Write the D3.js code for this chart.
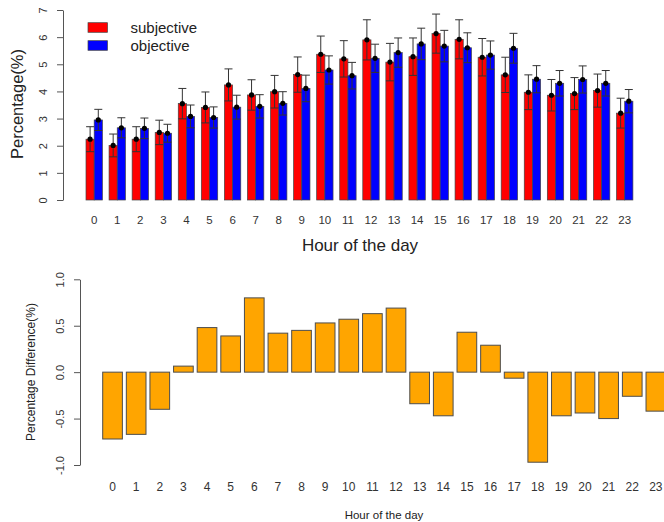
<!DOCTYPE html>
<html>
<head>
<meta charset="utf-8">
<script src="https://cdn.jsdelivr.net/npm/d3@7"></script>
<style>
  html, body { margin: 0; padding: 0; background: #fff; }
  svg { display: block; font-family: "Liberation Sans", Arial, Helvetica, sans-serif; }
</style>
</head>
<body>
<svg id="chart" width="664" height="522"></svg>
<script>
// Hours of the day
const hours = d3.range(24).map(String);

// Share of events per hour (%), with standard errors
const subjective = [2.24, 2.01, 2.24, 2.49, 3.55, 3.41, 4.24, 3.87, 3.99, 4.62, 5.37, 5.20,
                    5.90, 5.08, 5.28, 6.13, 5.92, 5.26, 4.61, 3.97, 3.86, 3.92, 4.03, 3.20];
const objective  = [2.95, 2.66, 2.64, 2.46, 3.08, 3.04, 3.42, 3.45, 3.56, 4.11, 4.79, 4.58,
                    5.22, 5.43, 5.75, 5.67, 5.61, 5.34, 5.59, 4.45, 4.30, 4.44, 4.30, 3.64];
const subjectiveErr = [0.46, 0.42, 0.46, 0.45, 0.56, 0.57, 0.59, 0.56, 0.60, 0.65, 0.67, 0.67,
                       0.74, 0.69, 0.69, 0.72, 0.72, 0.69, 0.65, 0.64, 0.58, 0.59, 0.61, 0.55];
const objectiveErr  = [0.39, 0.37, 0.38, 0.33, 0.42, 0.39, 0.44, 0.43, 0.43, 0.49, 0.52, 0.49,
                       0.52, 0.54, 0.58, 0.58, 0.55, 0.52, 0.55, 0.50, 0.47, 0.50, 0.47, 0.43];

// Subjective minus objective (%)
const difference = [-0.72, -0.67, -0.40, 0.065, 0.48, 0.39, 0.80, 0.42, 0.45, 0.53, 0.57, 0.63,
                    0.69, -0.34, -0.47, 0.43, 0.29, -0.065, -0.97, -0.47, -0.44, -0.50, -0.26, -0.42];

const seriesNames = ["subjective", "objective"];
const seriesColors = ["#ff0000", "#0000ff"];
const topTicks = [0, 1, 2, 3, 4, 5, 6, 7];
const bottomTicks = [-1.0, -0.5, 0.0, 0.5, 1.0];

const svg = d3.select("#chart");
const textColor = "#333";
const axisColor = "#555";

// ---------- Top panel: grouped bars with error bars ----------
const yTop = d3.scaleLinear().domain([0, 7]).range([200, 10]);
const xTop = d3.scaleBand().domain(hours).range([86, 632.9]).paddingInner(0.29).paddingOuter(0);
const xSeries = d3.scaleBand().domain(seriesNames).range([0, xTop.bandwidth()]);

const topRows = hours.map((h, i) => ({
  hour: h,
  vals: [
    { key: "subjective", v: subjective[i], e: subjectiveErr[i] },
    { key: "objective", v: objective[i], e: objectiveErr[i] }
  ]
}));

const groups = svg.append("g").selectAll("g")
  .data(topRows).join("g")
  .attr("transform", d => `translate(${xTop(d.hour)},0)`);

groups.selectAll("rect")
  .data(d => d.vals).join("rect")
  .attr("x", d => xSeries(d.key))
  .attr("y", d => yTop(d.v))
  .attr("width", xSeries.bandwidth())
  .attr("height", d => yTop(0) - yTop(d.v))
  .attr("fill", (d, i) => seriesColors[i])
  .attr("stroke", "#444")
  .attr("stroke-width", 0.7);

const cap = 4;
const eb = groups.selectAll("g.err")
  .data(d => d.vals).join("g")
  .attr("class", "err")
  .attr("transform", d => `translate(${xSeries(d.key) + xSeries.bandwidth() / 2},0)`)
  .attr("stroke", "#333")
  .attr("stroke-width", 1);
eb.append("line")
  .attr("x1", 0).attr("x2", 0)
  .attr("y1", d => yTop(d.v - d.e)).attr("y2", d => yTop(d.v + d.e));
eb.append("line")
  .attr("x1", -cap).attr("x2", cap)
  .attr("y1", d => yTop(d.v + d.e)).attr("y2", d => yTop(d.v + d.e));
eb.append("line")
  .attr("x1", -cap).attr("x2", cap)
  .attr("y1", d => yTop(d.v - d.e)).attr("y2", d => yTop(d.v - d.e));
eb.append("circle")
  .attr("cx", 0).attr("cy", d => yTop(d.v)).attr("r", 2.6)
  .attr("fill", "#000").attr("stroke", "none");

// y axis (labels parallel to the axis)
const yAxisTop = svg.append("g")
  .attr("transform", "translate(63,0)")
  .call(d3.axisLeft(yTop).tickValues(topTicks).tickFormat(d3.format("d")).tickSize(6).tickSizeOuter(0));
yAxisTop.selectAll("path, line").attr("stroke", axisColor);
yAxisTop.selectAll("text")
  .attr("transform", "rotate(-90)")
  .attr("x", 0).attr("y", -16).attr("dy", 0)
  .attr("text-anchor", "middle")
  .attr("fill", textColor)
  .style("font-size", "11px");

// x labels (no axis line)
const xAxisTop = svg.append("g")
  .attr("transform", "translate(0,200)")
  .call(d3.axisBottom(xTop).tickSize(0).tickPadding(16));
xAxisTop.select(".domain").remove();
xAxisTop.selectAll("text").attr("fill", textColor).style("font-size", "11.5px");

svg.append("text")
  .attr("x", 360).attr("y", 250.5)
  .attr("text-anchor", "middle")
  .attr("fill", "#222")
  .style("font-size", "17px")
  .text("Hour of the day");

svg.append("text")
  .attr("transform", "translate(23,104) rotate(-90)")
  .attr("text-anchor", "middle")
  .attr("fill", "#222")
  .style("font-size", "16.5px")
  .text("Percentage(%)");

// legend
const legend = svg.append("g");
seriesNames.forEach((name, i) => {
  legend.append("rect")
    .attr("x", 88).attr("y", 22.7 + i * 18)
    .attr("width", 19.5).attr("height", 9.6)
    .attr("fill", seriesColors[i])
    .attr("stroke", "#444").attr("stroke-width", 0.7);
  legend.append("text")
    .attr("x", 130.5).attr("y", 33.3 + i * 17.6)
    .attr("fill", "#222")
    .style("font-size", "15px")
    .text(name);
});

// ---------- Bottom panel: difference bars ----------
const yBot = d3.scaleLinear().domain([-1, 1]).range([465, 279.3]);
const xBot = d3.scaleBand().domain(hours).range([102.7, 665.7]).paddingInner(0.167).paddingOuter(0);

svg.append("g").selectAll("rect")
  .data(hours.map((h, i) => ({ hour: h, v: difference[i] })))
  .join("rect")
  .attr("x", d => xBot(d.hour))
  .attr("y", d => yBot(Math.max(0, d.v)))
  .attr("width", xBot.bandwidth())
  .attr("height", d => Math.abs(yBot(d.v) - yBot(0)))
  .attr("fill", "#ffa500")
  .attr("stroke", "#4d4d4d")
  .attr("stroke-width", 1);

const yAxisBot = svg.append("g")
  .attr("transform", "translate(80,0)")
  .call(d3.axisLeft(yBot).tickValues(bottomTicks).tickFormat(d => d.toFixed(1)).tickSize(6).tickSizeOuter(0));
yAxisBot.selectAll("path, line").attr("stroke", axisColor);
yAxisBot.selectAll("text")
  .attr("transform", "rotate(-90)")
  .attr("x", 0).attr("y", -16.5).attr("dy", 0)
  .attr("text-anchor", "middle")
  .attr("fill", textColor)
  .style("font-size", "11px");

const xAxisBot = svg.append("g")
  .attr("transform", "translate(0,465)")
  .call(d3.axisBottom(xBot).tickSize(0).tickPadding(17.5));
xAxisBot.select(".domain").remove();
xAxisBot.selectAll("text").attr("fill", textColor).style("font-size", "12px");

svg.append("text")
  .attr("x", 384).attr("y", 518.5)
  .attr("text-anchor", "middle")
  .attr("fill", "#222")
  .style("font-size", "11.5px")
  .text("Hour of the day");

svg.append("text")
  .attr("transform", "translate(35,372) rotate(-90)")
  .attr("text-anchor", "middle")
  .attr("fill", "#222")
  .style("font-size", "12px")
  .text("Percentage Difference(%)");
</script>
</body>
</html>
